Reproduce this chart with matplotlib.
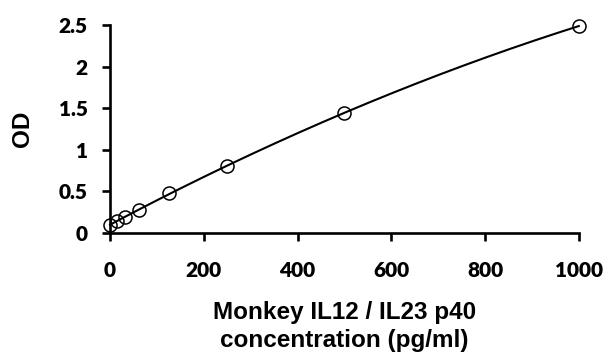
import numpy as np
import matplotlib.pyplot as plt

# --- data: standard curve ---
conc = [0, 15.6, 31.25, 62.5, 125, 250, 500, 1000]
od = [0.10, 0.14, 0.19, 0.28, 0.48, 0.81, 1.44, 2.49]
x_ticks = [0, 200, 400, 600, 800, 1000]
y_ticks = [0, 0.5, 1, 1.5, 2, 2.5]
y_tick_labels = ['0', '0.5', '1', '1.5', '2', '2.5']

# quadratic fit through the standards
coef = np.polyfit(conc, od, 2)
xs = np.linspace(min(conc), max(conc), 200)

fig = plt.figure(figsize=(6.08, 3.54), dpi=100)
ax = fig.add_axes([0.181, 0.342, 0.771, 0.587])

ax.plot(xs, np.polyval(coef, xs), color='black', lw=1.5, zorder=2, clip_on=False)
ax.plot(conc, od, 'o', ms=9.4, mfc='none', mec='black', mew=1.1, zorder=3, clip_on=False)

ax.set_xlim(0, 1000)
ax.set_ylim(0, 2.5)
ax.set_xticks(x_ticks)
ax.set_yticks(y_ticks)
ax.set_yticklabels(y_tick_labels)

for s in ['top', 'right']:
    ax.spines[s].set_visible(False)
for s in ['left', 'bottom']:
    ax.spines[s].set_linewidth(1.9)
ax.tick_params(direction='out', length=6, width=1.9)
ax.tick_params(axis='x', pad=14)
ax.tick_params(axis='y', pad=10)
for lab in ax.get_xticklabels() + ax.get_yticklabels():
    lab.set_fontfamily('Lato')
    lab.set_fontweight('heavy')
    lab.set_fontsize(15)

ax.set_ylabel('OD', fontsize=17.5, fontweight='bold', family='Liberation Sans', labelpad=18)
ax.set_xlabel('Monkey IL12 / IL23 p40\nconcentration (pg/ml)', fontsize=17.5,
              fontweight='bold', family='Liberation Sans', labelpad=15, linespacing=1.32)

plt.savefig('out.png', dpi=100)
